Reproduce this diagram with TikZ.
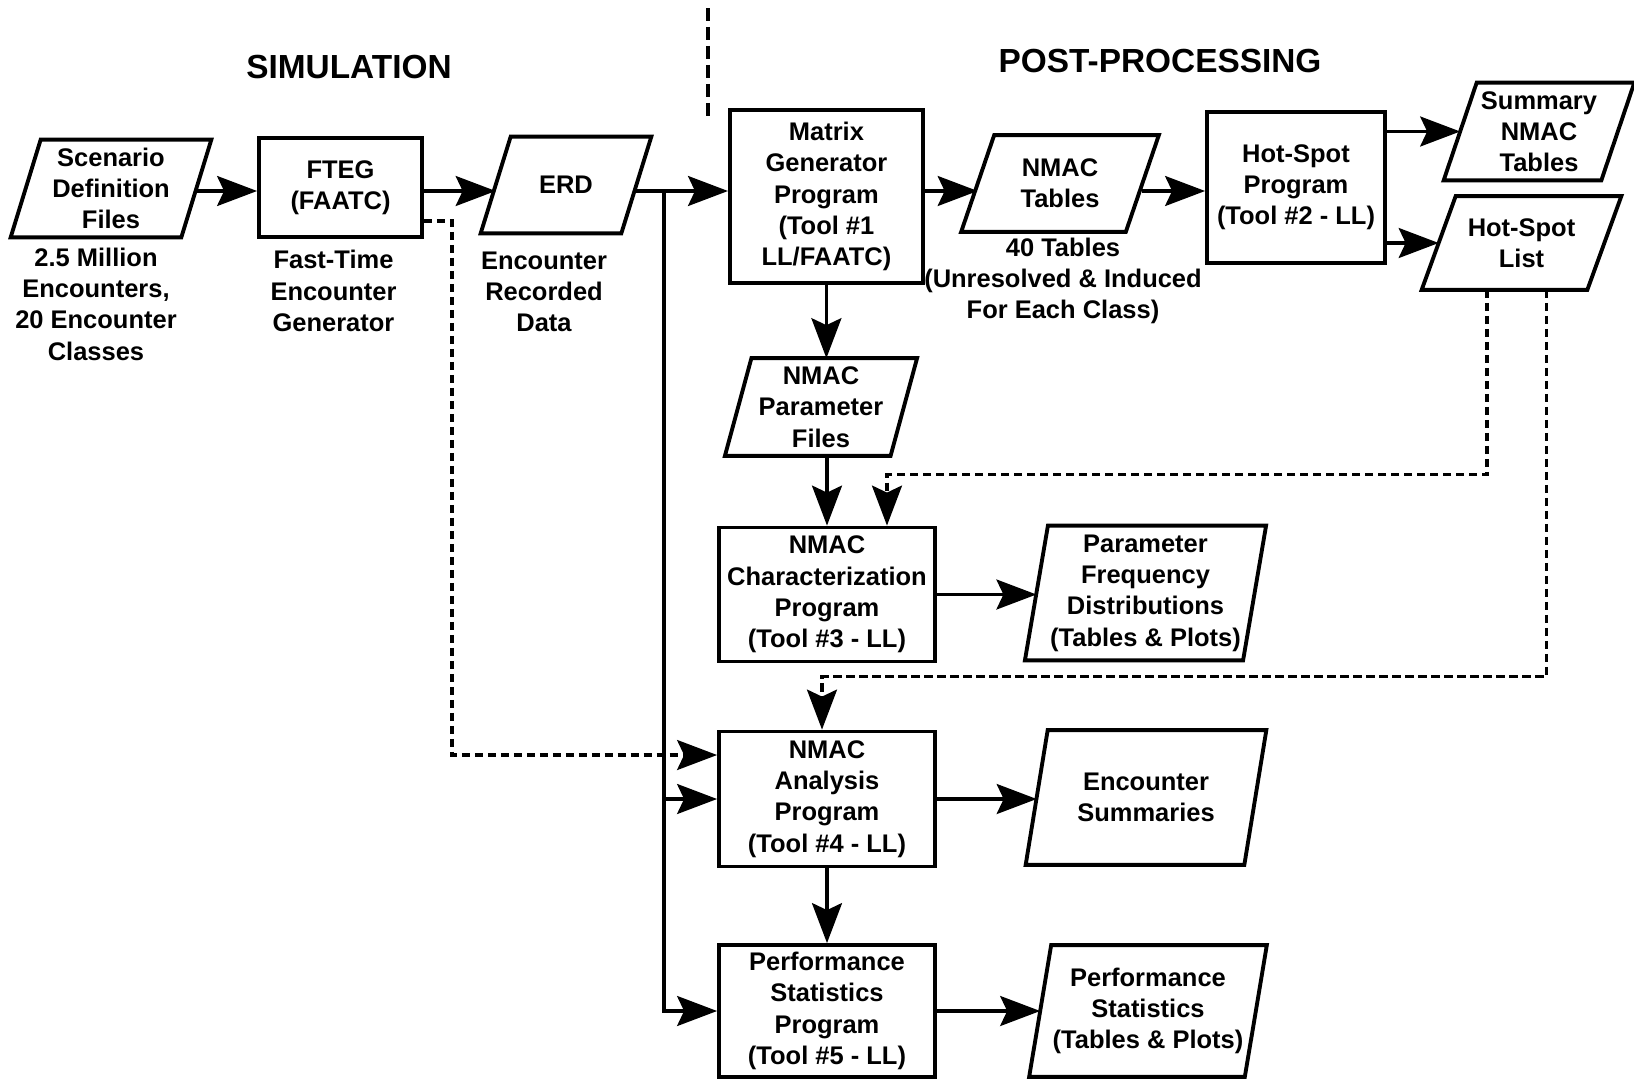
\documentclass[tikz,border=0pt]{standalone}
\usepackage{fontspec}
\setmainfont{Liberation Sans}
\usetikzlibrary{arrows.meta}
\newcommand{\boxfont}{\fontsize{14.5}{17.8}\selectfont\bfseries}
\newcommand{\headfont}{\fontsize{19}{23}\selectfont\bfseries}
\tikzstyle{arrow} = [line width=1.8pt, -{Stealth[length=0.8cm,width=0.6cm,inset=0.14cm]}]
\tikzstyle{darrow} = [arrow, dash pattern=on 0.17cm off 0.09cm]
\tikzstyle{prog} = [draw, rectangle, line width=2.2pt, align=center, inner sep=1pt, font=\boxfont]
\tikzstyle{data} = [rectangle, align=center, inner sep=1pt, font=\boxfont]
\tikzstyle{outline} = [line width=2.2pt]
\tikzstyle{lbl} = [align=center, font=\boxfont]

\begin{document}
\begin{tikzpicture}[x=0.02cm, y=-0.02cm]
\path[use as bounding box, fill=white] (0,0) rectangle (1634,1079);
\node[font=\headfont] (sim) at (349,67) {SIMULATION};
\node[font=\headfont] (post) at (1160,61) {POST-PROCESSING};
\draw[line width=2.4pt, dash pattern=on 0.26cm off 0.12cm] (708,8) -- (708,120);

\node[data, minimum width=3.4cm, minimum height=1.94cm] (scen) at (111,188.5) {Scenario\\Definition\\Files};
\node[prog, minimum width=3.26cm, minimum height=1.98cm] (fteg) at (340.5,187.5) {FTEG\\(FAATC)};
\node[data, minimum width=2.8cm, minimum height=1.92cm] (erd) at (566,185) {ERD};
\node[prog, minimum width=3.86cm, minimum height=3.46cm] (mgp) at (826.4,196.5) {Matrix\\Generator\\Program\\(Tool \#1\\LL/FAATC)};
\node[data, minimum width=3.28cm, minimum height=1.92cm] (ntab) at (1060,183.5) {NMAC\\Tables};
\node[prog, minimum width=3.56cm, minimum height=3.02cm] (hsp) at (1296,187.4) {Hot-Spot\\Program\\(Tool \#2 - LL)};
\node[data, minimum width=3.14cm, minimum height=1.94cm] (sum) at (1539,131.5) {Summary\\NMAC\\Tables};
\node[data, minimum width=3.3cm, minimum height=1.86cm] (hsl) at (1521.5,243) {Hot-Spot\\List};
\node[data, minimum width=3.3cm, minimum height=1.94cm] (npf) at (821,407) {NMAC\\Parameter\\Files};
\node[prog, minimum width=4.32cm, minimum height=2.68cm] (nchar) at (827,594.5) {NMAC\\Characterization\\Program\\(Tool \#3 - LL)};
\node[data, minimum width=4.35cm, minimum height=2.68cm] (pfd) at (1145.5,593) {Parameter\\Frequency\\Distributions\\(Tables \& Plots)};
\node[prog, minimum width=4.32cm, minimum height=2.7cm] (nana) at (827,799) {NMAC\\Analysis\\Program\\(Tool \#4 - LL)};
\node[data, minimum width=4.36cm, minimum height=2.68cm] (esum) at (1146,797.5) {Encounter\\Summaries};
\node[prog, minimum width=4.32cm, minimum height=2.64cm] (psp) at (827,1011) {Performance\\Statistics\\Program\\(Tool \#5 - LL)};
\node[data, minimum width=4.3cm, minimum height=2.62cm] (pst) at (1148,1011) {Performance\\Statistics\\(Tables \& Plots)};
\foreach \nd/\h in {scen/0.3, erd/0.3, ntab/0.33, sum/0.33, hsl/0.34, npf/0.265, pfd/0.23, esum/0.22, pst/0.22}
  \draw[outline] ([xshift=\h cm]\nd.north west) -- ([xshift=\h cm]\nd.north east) -- ([xshift=-\h cm]\nd.south east) -- ([xshift=-\h cm]\nd.south west) -- cycle;

\node[lbl] (scenl) at (96,304) {2.5 Million\\Encounters,\\20 Encounter\\Classes};
\node[lbl] (ftegl) at (333.5,291) {Fast-Time\\Encounter\\Generator};
\node[lbl] (erdl) at (544,292) {Encounter\\Recorded\\Data};
\node[lbl] (ntabl) at (1063,281) {40 Tables\\(Unresolved \& Induced\\For Each Class)};

\coordinate (row) at (0,191);
\coordinate (split) at (664,191);
\coordinate (hs1) at ([xshift=-0.69cm]hsl.center);
\coordinate (hs2) at ([xshift=0.5cm]hsl.center);
\draw[arrow] (scen.east |- row) -- (fteg.west |- row);
\draw[arrow] (fteg.east |- row) -- (erd.west |- row);
\draw[arrow] (erd.east |- row) -- (mgp.west |- row);
\draw[arrow] (split) |- (nana.west);
\draw[arrow] (split) |- (psp.west);
\draw[arrow] (mgp.east |- row) -- (ntab.west |- row);
\draw[arrow] (ntab.east |- row) -- (hsp.west |- row);
\draw[arrow] (hsp.east |- sum) -- (sum.west);
\draw[arrow] (hsp.east |- hsl) -- (hsl.west);
\draw[arrow] (mgp.south) -- (mgp.south |- npf.north);
\draw[arrow] (npf.south -| nchar.north) -- (nchar.north);
\draw[arrow] (nchar.east) -- (nchar.east -| pfd.west);
\draw[arrow] (nana.east) -- (nana.east -| esum.west);
\draw[arrow] (nana.south) -- (psp.north);
\draw[arrow] (psp.east) -- (psp.east -| pst.west);
\draw[darrow] ([yshift=-0.67cm]fteg.east) -- ++(28,0) |- ([yshift=0.88cm]nana.west);
\draw[darrow] (hs1 |- hsl.south) -- ++(0,185) -| ([xshift=1.2cm]nchar.north);
\draw[darrow] (hs2 |- hsl.south) -- ++(0,387) -| ([xshift=-0.1cm]nana.north);
\end{tikzpicture}
\end{document}
